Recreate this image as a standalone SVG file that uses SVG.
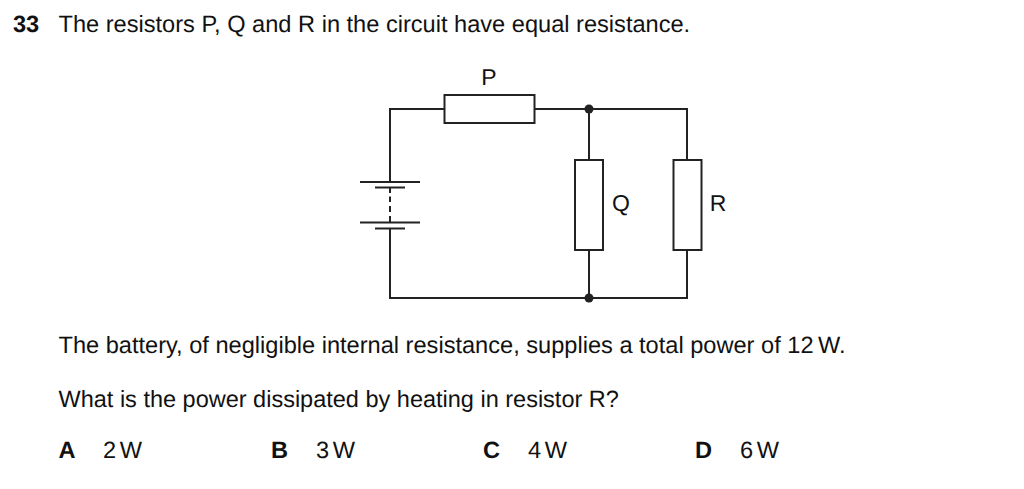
<svg xmlns="http://www.w3.org/2000/svg" width="1024" height="489" viewBox="0 0 1024 489">
<style>
text{font-family:"Liberation Sans",Arial,sans-serif;font-size:23.6px;fill:#111;text-rendering:geometricPrecision}
.b{font-weight:bold}
.u{word-spacing:-2px}
.a{word-spacing:-3px}
.l{font-size:23px}
.q{font-size:23.5px}
.w{fill:none;stroke:#222;stroke-width:2}
.r{fill:#fff;stroke:#222;stroke-width:2}
.d{fill:#222}
</style>
<rect width="1024" height="489" fill="#fff"/>
<g id="connectors">
<path class="w" d="M444.500 109H390V182M390 187V193M390 196.500V202M390 206V212M390 216V222M390 228V298H687V160M535 109H687V160M589 109V160M589 249V298"/>
<path class="w" d="M360 182H420M375 187.500H405M360 222.500H420M375 228.500H405"/>
</g>
<g id="P"><rect class="r" x="444.500" y="95" width="90" height="28"/><text class="l" x="489" y="85" text-anchor="middle">P</text></g>
<g id="Q"><rect class="r" x="575" y="160" width="28" height="90"/><text class="l" x="621" y="211" text-anchor="middle">Q</text></g>
<g id="R"><rect class="r" x="673.500" y="160" width="28" height="90"/><text class="l" x="718" y="211" text-anchor="middle">R</text></g>
<g id="junction-top"><circle class="d" cx="589" cy="109" r="4.500"/></g>
<g id="junction-bottom"><circle class="d" cx="589" cy="298" r="4.500"/></g>
<g id="text">
<text class="b" x="13" y="32">33</text>
<text x="58.500" y="32">The resistors P, Q and R in the circuit have equal resistance.</text>
<text x="58.500" y="353">The battery, of negligible internal resistance, supplies a total power of <tspan class="u">12 W.</tspan></text>
<text class="q" x="58.500" y="407">What is the power dissipated by heating in resistor R?</text>
<text class="b" x="58.500" y="458">A</text><text class="a" x="103" y="458">2 W</text>
<text class="b" x="271" y="458">B</text><text class="a" x="316" y="458">3 W</text>
<text class="b" x="483" y="458">C</text><text class="a" x="528" y="458">4 W</text>
<text class="b" x="695" y="458">D</text><text class="a" x="740" y="458">6 W</text>
</g>
</svg>
